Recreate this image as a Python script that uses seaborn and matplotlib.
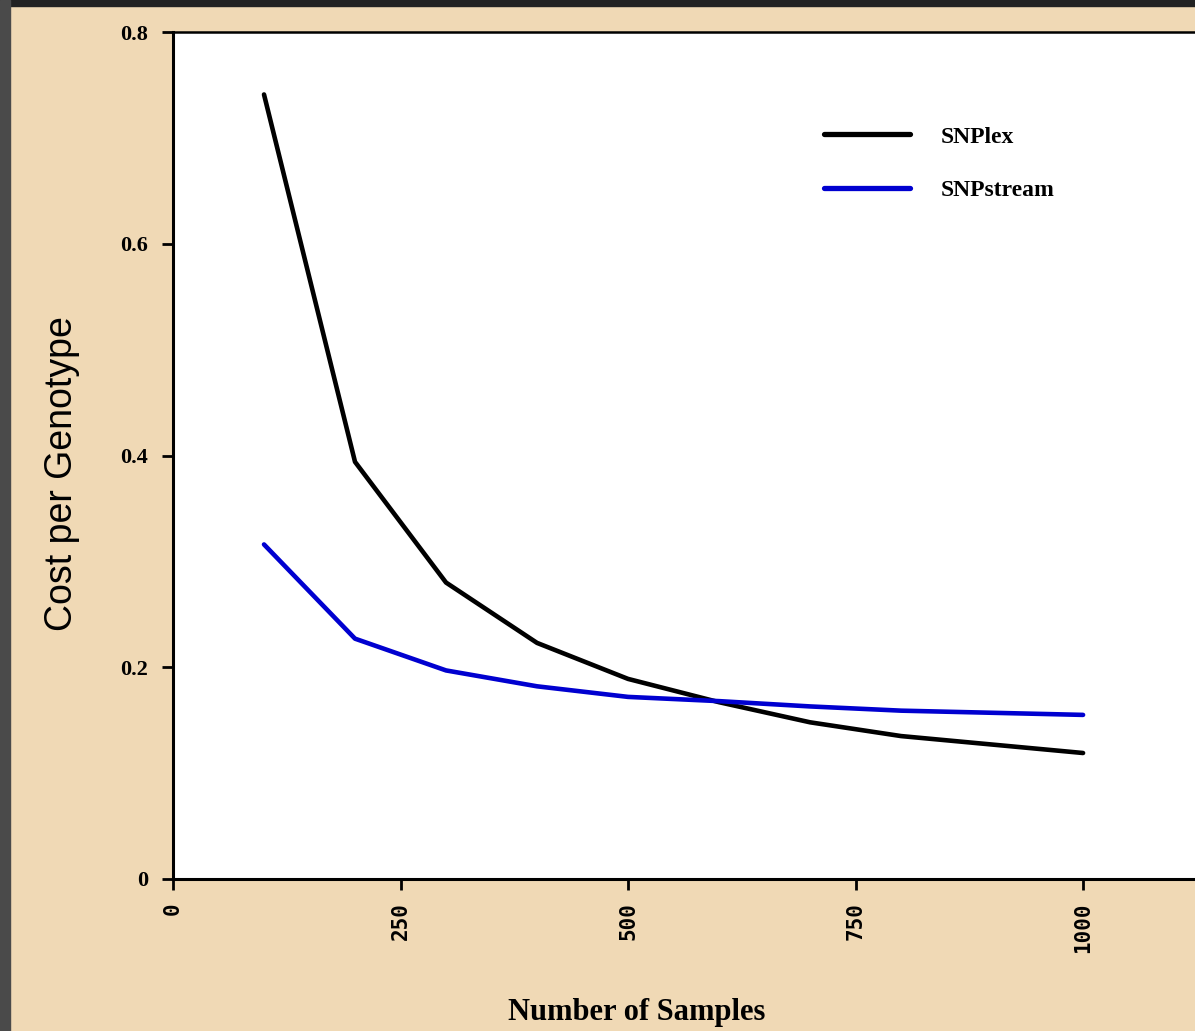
import matplotlib
matplotlib.use("Agg")
import matplotlib.pyplot as plt
from matplotlib.patches import Rectangle
import seaborn as sns
import pandas as pd

# data
samples = [100, 200, 300, 400, 500, 600, 700, 800, 900, 1000]
snplex = [0.741, 0.394, 0.280, 0.223, 0.189, 0.167, 0.148, 0.135, 0.127, 0.119]
snpstream = [0.316, 0.227, 0.197, 0.182, 0.172, 0.168, 0.163, 0.159, 0.157, 0.155]
xticks = [0, 250, 500, 750, 1000]
yticks = [0, 0.2, 0.4, 0.6, 0.8]
ytick_labels = ["0", "0.2", "0.4", "0.6", "0.8"]

df = pd.DataFrame({
    "samples": samples * 2,
    "cost": snplex + snpstream,
    "platform": ["SNPlex"] * len(samples) + ["SNPstream"] * len(samples),
})

sns.set_style("white")
plt.rcParams["text.color"] = "black"
plt.rcParams["xtick.color"] = "black"
plt.rcParams["ytick.color"] = "black"
plt.rcParams["axes.labelcolor"] = "black"

bg = "#F0D9B5"
fig = plt.figure(figsize=(11.95, 10.31), dpi=100, facecolor=bg)

# dark window borders on top/left
fig.patches.append(Rectangle((0, 1 - 6 / 1031), 1, 6 / 1031, transform=fig.transFigure,
                             color="#222222", zorder=0))
fig.patches.append(Rectangle((0, 0), 10 / 1195, 1, transform=fig.transFigure,
                             color="#4a4a4a", zorder=0))

ax = fig.add_axes([173 / 1195, 1 - 879 / 1031, 1 - 173 / 1195, 847 / 1031])
ax.set_facecolor("white")

sns.lineplot(data=df, x="samples", y="cost", hue="platform",
             palette={"SNPlex": "black", "SNPstream": "#0000D0"},
             linewidth=3.3, ax=ax)

ax.set_xlim(0, 1123)
ax.set_ylim(0, 0.8)
ax.set_xticks(xticks)
ax.set_xticklabels([str(t) for t in xticks], rotation=90,
                   fontfamily="DejaVu Sans Mono", fontweight="bold", fontsize=15)
ax.set_yticks(yticks)
ax.set_yticklabels(ytick_labels, fontfamily="Liberation Serif", fontweight="bold", fontsize=16)
ax.tick_params(axis="both", direction="out", length=8, width=2, color="black",
               bottom=True, left=True, labelcolor="black")
ax.tick_params(axis="y", pad=10)
ax.tick_params(axis="x", pad=9)

for side in ["left", "bottom", "top"]:
    ax.spines[side].set_visible(True)
    ax.spines[side].set_color("black")
    ax.spines[side].set_linewidth(2.2)
ax.spines["top"].set_linewidth(1.8)
ax.spines["right"].set_visible(False)

ax.set_xlabel("Number of Samples", fontfamily="Liberation Serif", fontweight="bold",
              fontsize=22, color="black")
ax.set_ylabel("Cost per Genotype", fontfamily="Liberation Sans", fontsize=27, color="black")
ax.xaxis.set_label_coords((637 - 173) / 1022, -(998 - 879) / 847)
ax.yaxis.set_label_coords(-(173 - 80) / 1022, (879 - 474) / 847)

leg = ax.legend(loc="upper left", bbox_to_anchor=(0.616, 0.914), frameon=False,
                handlelength=3.65, handletextpad=1.3, labelspacing=1.35,
                prop={"family": "Liberation Serif", "weight": "bold", "size": 17})
for line in leg.get_lines():
    line.set_linewidth(3.8)

fig.savefig("out.png", dpi=100, facecolor=bg)
